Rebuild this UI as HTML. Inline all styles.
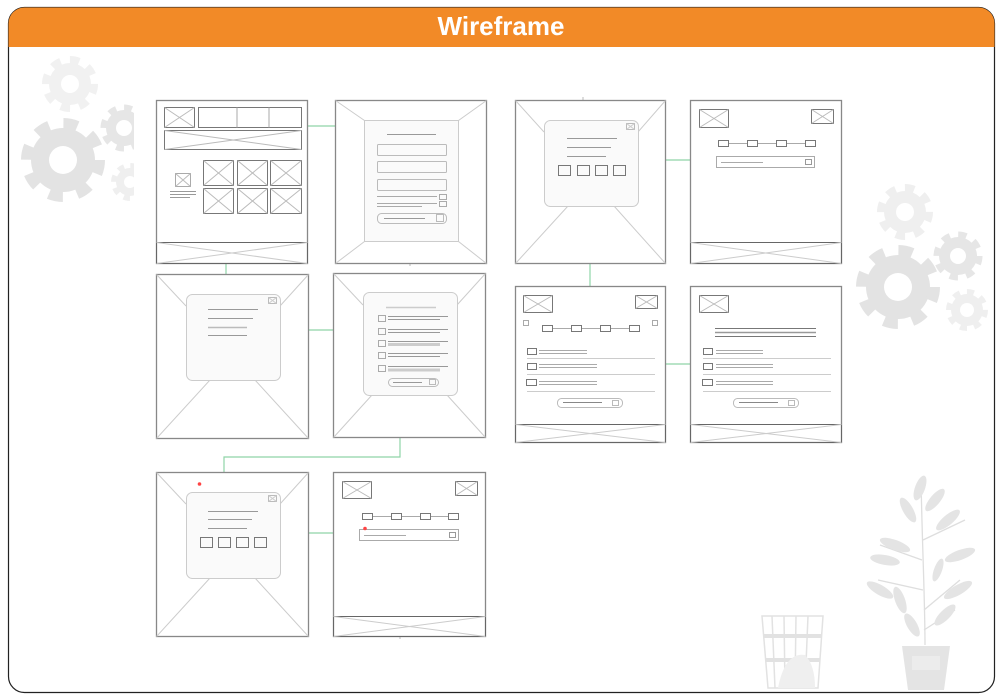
<!DOCTYPE html>
<html><head><meta charset="utf-8"><style>
html,body{margin:0;padding:0;background:#fff;width:1000px;height:700px;overflow:hidden}
svg{display:block}
</style></head><body>
<svg width="1000" height="700" viewBox="0 0 1000 700" xmlns="http://www.w3.org/2000/svg">
<defs>
<clipPath id="cl"><rect x="8" y="47" width="126" height="200"/></clipPath>
</defs>
<!-- frame -->
<rect x="8.5" y="7.5" width="986" height="685" rx="16" fill="#fff" stroke="#222" stroke-width="1.2"/>
<path d="M8.5 47 V23.5 A16 16 0 0 1 24.5 7.5 H978.5 A16 16 0 0 1 994.5 23.5 V47 Z" fill="#F28A27"/>
<text x="501" y="35" text-anchor="middle" font-family="Liberation Sans, sans-serif" font-weight="bold" font-size="26" fill="#fff">Wireframe</text>

<!-- gears -->
<g clip-path="url(#cl)">
<g fill="#f1f1f1"><circle cx="70" cy="84" r="21"/><circle cx="70" cy="84" r="24" fill="none" stroke="#f1f1f1" stroke-width="8" stroke-dasharray="9.4 9.4"/></g><circle cx="70" cy="84" r="9" fill="#fff"/>
<g fill="#e3e3e3"><circle cx="63" cy="160" r="32"/><circle cx="63" cy="160" r="36" fill="none" stroke="#e3e3e3" stroke-width="12" stroke-dasharray="14 14.3"/></g><circle cx="63" cy="160" r="14" fill="#fff"/>
<g fill="#e6e6e6"><circle cx="124" cy="128" r="18"/><circle cx="124" cy="128" r="20" fill="none" stroke="#e6e6e6" stroke-width="7" stroke-dasharray="7.8 7.9"/></g><circle cx="124" cy="128" r="8" fill="#fff"/>
<g fill="#efefef"><circle cx="130" cy="182" r="14"/><circle cx="130" cy="182" r="16" fill="none" stroke="#efefef" stroke-width="6" stroke-dasharray="6.3 6.3"/></g><circle cx="130" cy="182" r="6" fill="#fff"/>
</g>
<g fill="#efefef"><circle cx="905" cy="212" r="21"/><circle cx="905" cy="212" r="24" fill="none" stroke="#efefef" stroke-width="8" stroke-dasharray="9.4 9.4"/></g><circle cx="905" cy="212" r="9" fill="#fff"/>
<g fill="#e3e3e3"><circle cx="898" cy="287" r="32"/><circle cx="898" cy="287" r="36" fill="none" stroke="#e3e3e3" stroke-width="12" stroke-dasharray="14 14.3"/></g><circle cx="898" cy="287" r="14" fill="#fff"/>
<g fill="#e6e6e6"><circle cx="958" cy="256" r="19"/><circle cx="958" cy="256" r="21" fill="none" stroke="#e6e6e6" stroke-width="7" stroke-dasharray="8.2 8.3"/></g><circle cx="958" cy="256" r="8" fill="#fff"/>
<g fill="#efefef"><circle cx="967" cy="310" r="16"/><circle cx="967" cy="310" r="18" fill="none" stroke="#efefef" stroke-width="6" stroke-dasharray="7 7.1"/></g><circle cx="967" cy="310" r="7" fill="#fff"/>

<!-- plant -->
<g fill="#e4e4e4" stroke="none">
<path d="M902 646 H950 L944 690 H908 Z"/>
<rect x="912" y="656" width="28" height="14" fill="#ececec"/>
</g>
<g stroke="#dedede" stroke-width="1.3" fill="none">
<path d="M925 645 C925 600 922 540 921 478"/><path d="M922 560 L880 545"/><path d="M923 590 L878 580"/><path d="M924 610 L960 580"/><path d="M923 540 L965 520"/><path d="M924 630 L955 610"/>
</g>
<g fill="#e4e4e4">
<ellipse cx="920" cy="488" rx="5" ry="13" transform="rotate(20 920 488)"/>
<ellipse cx="935" cy="500" rx="5" ry="14" transform="rotate(40 935 500)"/>
<ellipse cx="908" cy="510" rx="5" ry="14" transform="rotate(-30 908 510)"/>
<ellipse cx="948" cy="520" rx="5" ry="15" transform="rotate(50 948 520)"/>
<ellipse cx="895" cy="545" rx="5" ry="16" transform="rotate(-70 895 545)"/>
<ellipse cx="885" cy="560" rx="5" ry="15" transform="rotate(-80 885 560)"/>
<ellipse cx="960" cy="555" rx="5" ry="16" transform="rotate(70 960 555)"/>
<ellipse cx="880" cy="590" rx="5" ry="15" transform="rotate(-60 880 590)"/>
<ellipse cx="900" cy="600" rx="5" ry="14" transform="rotate(-20 900 600)"/>
<ellipse cx="958" cy="590" rx="5" ry="16" transform="rotate(60 958 590)"/>
<ellipse cx="945" cy="615" rx="5" ry="14" transform="rotate(45 945 615)"/>
<ellipse cx="912" cy="625" rx="5" ry="13" transform="rotate(-30 912 625)"/>
<ellipse cx="938" cy="570" rx="4" ry="12" transform="rotate(20 938 570)"/>
</g>
<!-- basket -->
<g stroke="#e2e2e2" stroke-width="1.5" fill="none">
<path d="M762 616 H823 L818 688 H768 Z"/>
<path d="M772 616 L775 688 M784 616 L785 688 M796 616 L795 688 M808 616 L805 688"/>
</g>
<rect x="764" y="634" width="58" height="4" fill="#e2e2e2"/>
<rect x="766" y="658" width="54" height="4" fill="#e2e2e2"/>
<path d="M778 688 Q785 652 805 655 Q815 665 815 688 Z" fill="#efefef"/>

<!-- connectors -->
<g stroke="#8fd4a8" stroke-width="1.2" fill="none">
<path d="M307 126 H335"/><path d="M226 263 V274"/><path d="M308 330 H333"/>
<path d="M400 437 V457 H224 V472"/><path d="M308 533 H333"/>
<path d="M665 160 H690"/><path d="M590 263 V286"/><path d="M665 364 H690"/>
</g>
<g stroke="#bbb" stroke-width="1"><path d="M583 97 V100"/><path d="M410 263 V266"/><path d="M400 636 V639"/></g>

<!-- ===== Frame A ===== -->
<g fill="none" stroke="#777" stroke-width="1">
<rect x="156.5" y="100.5" width="151" height="163" stroke="#888" stroke-width="1.3"/>
<rect x="164.5" y="107.5" width="30" height="20"/><path d="M164.5 107.5 L194.5 127.5 M194.5 107.5 L164.5 127.5" stroke="#bbb"/>
<rect x="198.5" y="107.5" width="103" height="20"/><path d="M237 107.5 V127.5 M269 107.5 V127.5" stroke="#aaa"/>
<rect x="164.5" y="130.5" width="137" height="19"/><path d="M164.5 130.5 L301.5 149.5 M301.5 130.5 L164.5 149.5" stroke="#bbb"/>
<rect x="175.5" y="173.5" width="15" height="13" stroke="#aaa"/><path d="M175.5 173.5 L190.5 186.5 M190.5 173.5 L175.5 186.5" stroke="#bbb"/>
<path d="M170 191.5 H196 M170 194.5 H196 M170 197.5 H190" stroke="#999"/>
<rect x="203.5" y="160.5" width="30" height="25"/><path d="M203.5 160.5 L233.5 185.5 M233.5 160.5 L203.5 185.5" stroke="#bbb"/>
<rect x="237.5" y="160.5" width="30" height="25"/><path d="M237.5 160.5 L267.5 185.5 M267.5 160.5 L237.5 185.5" stroke="#bbb"/>
<rect x="270.5" y="160.5" width="31" height="25"/><path d="M270.5 160.5 L301.5 185.5 M301.5 160.5 L270.5 185.5" stroke="#bbb"/>
<rect x="203.5" y="188.5" width="30" height="25"/><path d="M203.5 188.5 L233.5 213.5 M233.5 188.5 L203.5 213.5" stroke="#bbb"/>
<rect x="237.5" y="188.5" width="30" height="25"/><path d="M237.5 188.5 L267.5 213.5 M267.5 188.5 L237.5 213.5" stroke="#bbb"/>
<rect x="270.5" y="188.5" width="31" height="25"/><path d="M270.5 188.5 L301.5 213.5 M301.5 188.5 L270.5 213.5" stroke="#bbb"/>
<rect x="156.5" y="242.5" width="151" height="21" stroke="#666"/><path d="M156.5 242.5 L307.5 263.5 M307.5 242.5 L156.5 263.5" stroke="#ccc"/>
</g>

<!-- ===== Frame B ===== -->
<g fill="none" stroke="#777" stroke-width="1">
<rect x="335.5" y="100.5" width="151" height="163" stroke="#888" stroke-width="1.3"/>
<path d="M335.5 100.5 L364.5 120.5 M486.5 100.5 L458.5 120.5 M335.5 263.5 L364.5 241.5 M486.5 263.5 L458.5 241.5" stroke="#ccc"/>
<rect x="364.5" y="120.5" width="94" height="121" fill="#fafafa" stroke="#ccc"/>
<path d="M387 134.5 H436" stroke="#999"/>
<rect x="377.5" y="144.5" width="69" height="11" rx="1" stroke="#bbb"/>
<rect x="377.5" y="161.5" width="69" height="11" rx="1" stroke="#bbb"/>
<rect x="377.5" y="179.5" width="69" height="11" rx="1" stroke="#bbb"/>
<path d="M377 196.5 H437 M377 203.5 H437 M377 206.5 H422" stroke="#aaa"/>
<rect x="439.5" y="194.5" width="7" height="5" stroke="#aaa"/><rect x="439.5" y="201.5" width="7" height="5" stroke="#aaa"/>
<rect x="377.5" y="213.5" width="69" height="10" rx="4" stroke="#bbb"/>
<path d="M384 218.5 H425" stroke="#999"/><rect x="436.5" y="214.5" width="7" height="7" stroke="#bbb"/>
</g>

<!-- ===== Frame C ===== -->
<g fill="none" stroke="#777" stroke-width="1">
<rect x="156.5" y="274.5" width="152" height="164" stroke="#888" stroke-width="1.3"/>
<path d="M156.5 274.5 L186 306 M308.5 274.5 L280 306 M156.5 438.5 L210 380 M308.5 438.5 L255 380" stroke="#ccc"/>
<rect x="186.5" y="294.5" width="94" height="86" rx="6" fill="#fafafa" stroke="#ccc"/>
<rect x="268.5" y="297.5" width="8" height="6" stroke="#bbb"/><path d="M268.5 297.5 L276.5 303.5 M276.5 297.5 L268.5 303.5" stroke="#ccc"/>
<path d="M208 309.5 H258 M208 318.5 H253 M208 335.5 H247" stroke="#999"/><path d="M208 327.5 H247" stroke="#bbb" stroke-width="1.5"/>
</g>

<!-- ===== Frame D ===== -->
<g fill="none" stroke="#777" stroke-width="1">
<rect x="333.5" y="273.5" width="152" height="164" stroke="#888" stroke-width="1.3"/>
<path d="M333.5 273.5 L363 305 M485.5 273.5 L457 305 M333.5 437.5 L372 395 M485.5 437.5 L447 395" stroke="#ccc"/>
<rect x="363.5" y="292.5" width="94" height="103" rx="6" fill="#fafafa" stroke="#ccc"/>
<path d="M386 307.5 H436" stroke="#ccc" stroke-width="1.5"/>
<g stroke="#aaa"><rect x="378.5" y="315.5" width="7" height="6"/><rect x="378.5" y="328.5" width="7" height="6"/><rect x="378.5" y="340.5" width="7" height="6"/><rect x="378.5" y="352.5" width="7" height="6"/><rect x="378.5" y="365.5" width="7" height="6"/></g>
<path d="M388 316.5 H448 M388 319.5 H440 M388 329.5 H448 M388 332.5 H440 M388 341.5 H448 M388 353.5 H448 M388 356.5 H440 M388 366.5 H448" stroke="#999"/>
<path d="M388 344.5 H440 M388 370 H440" stroke="#ccc" stroke-width="3"/>
<rect x="388.5" y="378.5" width="50" height="8" rx="4" stroke="#bbb"/><path d="M393 382.5 H422" stroke="#999"/><rect x="429.5" y="379.5" width="6" height="5" stroke="#bbb"/>
</g>

<!-- ===== Frame E ===== -->
<g fill="none" stroke="#777" stroke-width="1">
<rect x="156.5" y="472.5" width="152" height="164" stroke="#888" stroke-width="1.3"/>
<path d="M156.5 472.5 L186 504 M308.5 472.5 L280 504 M156.5 636.5 L210 578 M308.5 636.5 L255 578" stroke="#ccc"/>
<rect x="186.5" y="492.5" width="94" height="86" rx="6" fill="#fafafa" stroke="#ccc"/>
<rect x="268.5" y="495.5" width="8" height="6" stroke="#bbb"/><path d="M268.5 495.5 L276.5 501.5 M276.5 495.5 L268.5 501.5" stroke="#ccc"/>
<path d="M208 511.5 H258 M208 519.5 H252 M208 528.5 H247" stroke="#999"/>
<rect x="200.5" y="537.5" width="12" height="10"/><rect x="218.5" y="537.5" width="12" height="10"/><rect x="236.5" y="537.5" width="12" height="10"/><rect x="254.5" y="537.5" width="12" height="10"/>
</g>
<circle cx="199.5" cy="484" r="1.8" fill="#f44"/>

<!-- ===== Frame F ===== -->
<g fill="none" stroke="#777" stroke-width="1">
<rect x="333.5" y="472.5" width="152" height="164" stroke="#888" stroke-width="1.3"/>
<rect x="342.5" y="481.5" width="29" height="17"/><path d="M342.5 481.5 L371.5 498.5 M371.5 481.5 L342.5 498.5" stroke="#bbb"/>
<rect x="455.5" y="481.5" width="22" height="14"/><path d="M455.5 481.5 L477.5 495.5 M477.5 481.5 L455.5 495.5" stroke="#bbb"/>
<path d="M367 516.5 H454" stroke="#aaa"/>
<g fill="#fff"><rect x="362.5" y="513.5" width="10" height="6"/><rect x="391.5" y="513.5" width="10" height="6"/><rect x="420.5" y="513.5" width="10" height="6"/><rect x="448.5" y="513.5" width="10" height="6"/></g>
<rect x="359.5" y="529.5" width="99" height="11" stroke="#aaa"/><path d="M364 535.5 H406" stroke="#aaa"/><rect x="449.5" y="532.5" width="6" height="5" stroke="#999"/>
<rect x="333.5" y="616.5" width="152" height="20" stroke="#666"/><path d="M333.5 616.5 L485.5 636.5 M485.5 616.5 L333.5 636.5" stroke="#ccc"/>
</g>
<circle cx="365" cy="528.5" r="1.8" fill="#f44"/>

<!-- ===== Frame G ===== -->
<g fill="none" stroke="#777" stroke-width="1">
<rect x="515.5" y="100.5" width="150" height="163" stroke="#888" stroke-width="1.3"/>
<path d="M515.5 100.5 L544 132 M665.5 100.5 L638 132 M515.5 263.5 L568 206 M665.5 263.5 L614 206" stroke="#ccc"/>
<rect x="544.5" y="120.5" width="94" height="86" rx="6" fill="#fafafa" stroke="#ccc"/>
<rect x="626.5" y="123.5" width="8" height="6" stroke="#bbb"/><path d="M626.5 123.5 L634.5 129.5 M634.5 123.5 L626.5 129.5" stroke="#ccc"/>
<path d="M567 138.5 H617 M567 147.5 H611 M567 156.5 H606" stroke="#999"/>
<rect x="558.5" y="165.5" width="12" height="10"/><rect x="577.5" y="165.5" width="12" height="10"/><rect x="595.5" y="165.5" width="12" height="10"/><rect x="613.5" y="165.5" width="12" height="10"/>
</g>

<!-- ===== Frame H ===== -->
<g fill="none" stroke="#777" stroke-width="1">
<rect x="690.5" y="100.5" width="151" height="163" stroke="#888" stroke-width="1.3"/>
<rect x="699.5" y="109.5" width="29" height="18"/><path d="M699.5 109.5 L728.5 127.5 M728.5 109.5 L699.5 127.5" stroke="#bbb"/>
<rect x="811.5" y="109.5" width="22" height="14"/><path d="M811.5 109.5 L833.5 123.5 M833.5 109.5 L811.5 123.5" stroke="#bbb"/>
<path d="M723 143.5 H810" stroke="#aaa"/>
<g fill="#fff"><rect x="718.5" y="140.5" width="10" height="6"/><rect x="747.5" y="140.5" width="10" height="6"/><rect x="776.5" y="140.5" width="10" height="6"/><rect x="805.5" y="140.5" width="10" height="6"/></g>
<rect x="716.5" y="156.5" width="98" height="11" stroke="#aaa"/><path d="M721 162.5 H763" stroke="#aaa"/><rect x="805.5" y="159.5" width="6" height="5" stroke="#999"/>
<rect x="690.5" y="242.5" width="151" height="21" stroke="#666"/><path d="M690.5 242.5 L841.5 263.5 M841.5 242.5 L690.5 263.5" stroke="#ccc"/>
</g>

<!-- ===== Frame I ===== -->
<g fill="none" stroke="#777" stroke-width="1">
<rect x="515.5" y="286.5" width="150" height="156" stroke="#888" stroke-width="1.3"/>
<rect x="523.5" y="295.5" width="29" height="17"/><path d="M523.5 295.5 L552.5 312.5 M552.5 295.5 L523.5 312.5" stroke="#bbb"/>
<rect x="635.5" y="295.5" width="22" height="13"/><path d="M635.5 295.5 L657.5 308.5 M657.5 295.5 L635.5 308.5" stroke="#bbb"/>
<rect x="523.5" y="320.5" width="5" height="5" stroke="#aaa"/><rect x="652.5" y="320.5" width="5" height="5" stroke="#aaa"/>
<path d="M547 328.5 H634" stroke="#aaa"/>
<g fill="#fff"><rect x="542.5" y="325.5" width="10" height="6"/><rect x="571.5" y="325.5" width="10" height="6"/><rect x="600.5" y="325.5" width="10" height="6"/><rect x="629.5" y="325.5" width="10" height="6"/></g>
<rect x="527.5" y="348.5" width="9" height="6"/><path d="M539 350.5 H587 M539 353.5 H587" stroke="#aaa"/><path d="M527 358.5 H655" stroke="#ccc"/>
<rect x="527.5" y="363.5" width="9" height="6"/><path d="M539 364.5 H597 M539 367.5 H597" stroke="#aaa"/><path d="M527 374.5 H655" stroke="#ccc"/>
<rect x="526.5" y="379.5" width="10" height="6"/><path d="M539 381.5 H597 M539 384.5 H597" stroke="#aaa"/><path d="M527 391.5 H655" stroke="#ccc"/>
<rect x="557.5" y="398.5" width="65" height="9" rx="4" stroke="#bbb"/><path d="M563 402.5 H602" stroke="#888"/><rect x="612.5" y="400.5" width="6" height="5" stroke="#bbb"/>
<rect x="515.5" y="424.5" width="150" height="18" stroke="#666"/><path d="M515.5 424.5 L665.5 442.5 M665.5 424.5 L515.5 442.5" stroke="#ccc"/>
</g>

<!-- ===== Frame J ===== -->
<g fill="none" stroke="#777" stroke-width="1">
<rect x="690.5" y="286.5" width="151" height="156" stroke="#888" stroke-width="1.3"/>
<rect x="699.5" y="295.5" width="29" height="17"/><path d="M699.5 295.5 L728.5 312.5 M728.5 295.5 L699.5 312.5" stroke="#bbb"/>
<path d="M715 328.5 H816 M715 336.5 H816" stroke="#777"/><path d="M715 332.5 H816" stroke="#999" stroke-width="1.5"/>
<rect x="703.5" y="348.5" width="9" height="6"/><path d="M716 350.5 H763 M716 353.5 H763" stroke="#aaa"/><path d="M703 358.5 H831" stroke="#ccc"/>
<rect x="703.5" y="363.5" width="9" height="6"/><path d="M716 364.5 H773 M716 367.5 H773" stroke="#aaa"/><path d="M703 374.5 H831" stroke="#ccc"/>
<rect x="702.5" y="379.5" width="10" height="6"/><path d="M716 381.5 H773 M716 384.5 H773" stroke="#aaa"/><path d="M703 391.5 H831" stroke="#ccc"/>
<rect x="733.5" y="398.5" width="65" height="9" rx="4" stroke="#bbb"/><path d="M739 402.5 H778" stroke="#888"/><rect x="788.5" y="400.5" width="6" height="5" stroke="#bbb"/>
<rect x="690.5" y="424.5" width="151" height="18" stroke="#666"/><path d="M690.5 424.5 L841.5 442.5 M841.5 424.5 L690.5 442.5" stroke="#ccc"/>
</g>
</svg>
</body></html>
